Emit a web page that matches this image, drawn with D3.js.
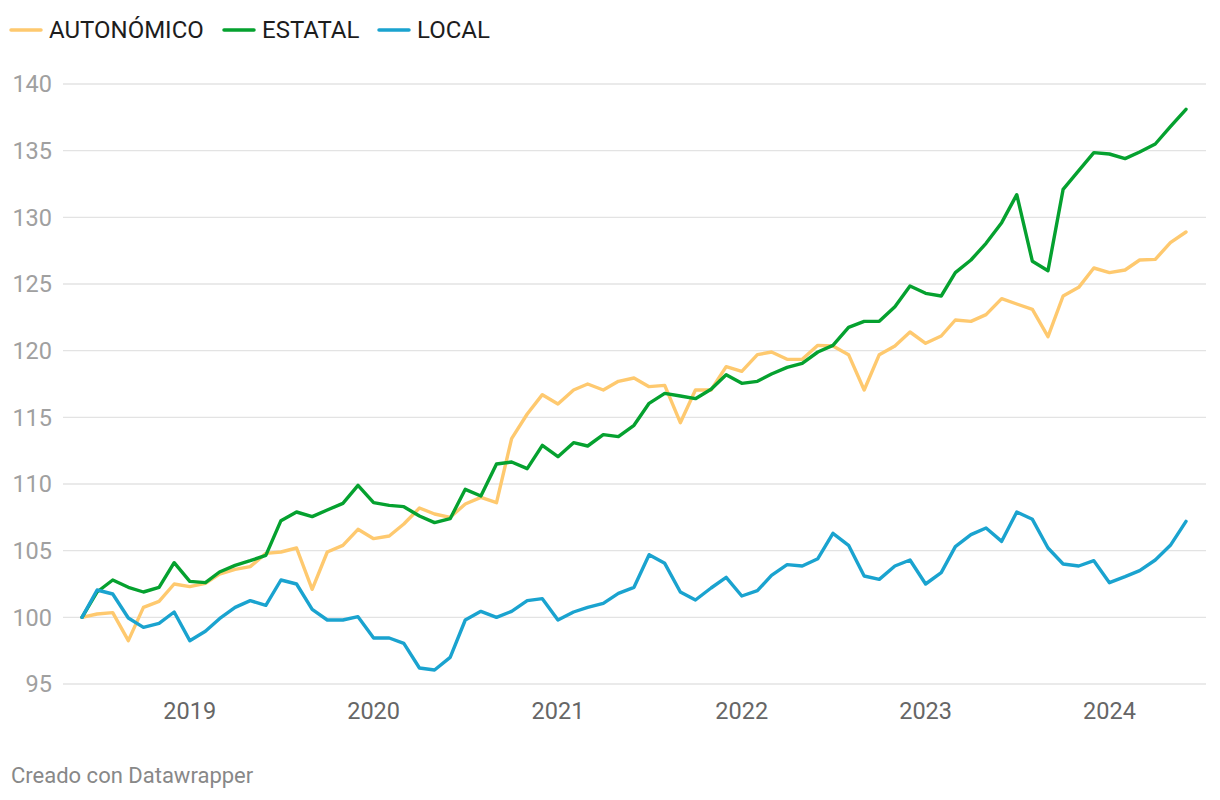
<!DOCTYPE html>
<html>
<head>
<meta charset="utf-8">
<script src="https://cdn.jsdelivr.net/npm/d3@7"></script>
<style>
  html, body { margin: 0; padding: 0; background: #fff; }
  svg { display: block; font-family: Roboto, "Noto Sans", sans-serif; }
</style>
</head>
<body>
<svg id="chart" width="1220" height="800"></svg>
<script>
const months = [
  "2018-06","2018-07","2018-08","2018-09","2018-10","2018-11","2018-12",
  "2019-01","2019-02","2019-03","2019-04","2019-05","2019-06","2019-07","2019-08","2019-09","2019-10","2019-11","2019-12",
  "2020-01","2020-02","2020-03","2020-04","2020-05","2020-06","2020-07","2020-08","2020-09","2020-10","2020-11","2020-12",
  "2021-01","2021-02","2021-03","2021-04","2021-05","2021-06","2021-07","2021-08","2021-09","2021-10","2021-11","2021-12",
  "2022-01","2022-02","2022-03","2022-04","2022-05","2022-06","2022-07","2022-08","2022-09","2022-10","2022-11","2022-12",
  "2023-01","2023-02","2023-03","2023-04","2023-05","2023-06","2023-07","2023-08","2023-09","2023-10","2023-11","2023-12",
  "2024-01","2024-02","2024-03","2024-04","2024-05","2024-06"
];
const autonomico = [
  100, 100.25, 100.35, 98.25, 100.75, 101.2, 102.5, 102.3, 102.55, 103.25, 103.6, 103.8, 104.8,
  104.9, 105.2, 102.1, 104.9, 105.4, 106.6, 105.9, 106.1, 107.0, 108.2, 107.75, 107.5,
  108.5, 109.0, 108.6, 113.4, 115.25, 116.7, 116.0, 117.05, 117.5, 117.05, 117.7, 117.95,
  117.3, 117.4, 114.6, 117.05, 117.05, 118.8, 118.45, 119.7, 119.9, 119.35, 119.35, 120.4,
  120.35, 119.7, 117.05, 119.7, 120.35, 121.4, 120.55, 121.1, 122.3, 122.2, 122.7, 123.9,
  123.5, 123.1, 121.05, 124.1, 124.75, 126.2, 125.85, 126.05, 126.8, 126.85, 128.1, 128.9
];
const estatal = [
  100, 101.9, 102.8, 102.25, 101.9, 102.25, 104.1, 102.7, 102.6, 103.4, 103.9, 104.25, 104.65,
  107.25, 107.9, 107.55, 108.05, 108.55, 109.9, 108.6, 108.4, 108.3, 107.6, 107.1, 107.4,
  109.6, 109.1, 111.5, 111.65, 111.15, 112.9, 112.05, 113.1, 112.85, 113.7, 113.55, 114.4,
  116.05, 116.8, 116.6, 116.4, 117.1, 118.2, 117.55, 117.7, 118.25, 118.75, 119.05, 119.9,
  120.4, 121.75, 122.2, 122.2, 123.3, 124.85, 124.3, 124.1, 125.85, 126.8, 128.05, 129.6,
  131.7, 126.7, 126.0, 132.1, 133.5, 134.85, 134.75, 134.4, 134.9, 135.5, 136.8, 138.1
];
const local = [
  100, 102.05, 101.75, 99.95, 99.25, 99.55, 100.4, 98.25, 98.95, 99.9, 100.75, 101.25, 100.9,
  102.8, 102.5, 100.6, 99.8, 99.8, 100.05, 98.45, 98.45, 98.05, 96.2, 96.05, 97.0,
  99.8, 100.45, 100.0, 100.45, 101.25, 101.4, 99.8, 100.4, 100.75, 101.05, 101.8, 102.25,
  104.7, 104.05, 101.9, 101.3, 102.2, 103.0, 101.6, 102.0, 103.15, 103.95, 103.85, 104.4,
  106.3, 105.4, 103.1, 102.85, 103.85, 104.3, 102.5, 103.35, 105.3, 106.2, 106.7, 105.7,
  107.9, 107.35, 105.2, 104.0, 103.85, 104.25, 102.6, 103.05, 103.5, 104.3, 105.4, 107.2
];
const seriesNames = ["AUTONÓMICO", "ESTATAL", "LOCAL"];
const seriesColors = ["#fec96f", "#05a12f", "#1aa3cf"];
const yTicks = [95, 100, 105, 110, 115, 120, 125, 130, 135, 140];
const xTickLabels = ["2019", "2020", "2021", "2022", "2023", "2024"];

const parse = d3.timeParse("%Y-%m");
const dates = months.map(parse);
const allSeries = [autonomico, estatal, local];

const svg = d3.select("#chart");

const x = d3.scaleTime()
  .domain(d3.extent(dates))
  .range([82, 1186]);
const y = d3.scaleLinear()
  .domain([95, 140])
  .range([684, 84]);

// gridlines
svg.append("g")
  .selectAll("line")
  .data(yTicks)
  .join("line")
  .attr("x1", 63)
  .attr("x2", 1206)
  .attr("y1", d => y(d))
  .attr("y2", d => y(d))
  .attr("stroke", "#e3e3e3")
  .attr("stroke-width", 1.3);

// y labels
svg.append("g")
  .selectAll("text")
  .data(yTicks)
  .join("text")
  .attr("x", 52)
  .attr("y", d => y(d))
  .attr("dy", "0.35em")
  .attr("text-anchor", "end")
  .attr("fill", "#a0a0a0")
  .attr("font-size", 23.5)
  .text(d => d);

// x labels
svg.append("g")
  .selectAll("text")
  .data(xTickLabels)
  .join("text")
  .attr("x", d => x(d3.timeParse("%Y")(d)))
  .attr("y", 719)
  .attr("text-anchor", "middle")
  .attr("fill", "#666")
  .attr("font-size", 23.5)
  .text(d => d);

// lines
const line = d3.line()
  .x((d, i) => x(dates[i]))
  .y(d => y(d));

svg.append("g")
  .selectAll("path")
  .data(allSeries)
  .join("path")
  .attr("d", d => line(d))
  .attr("fill", "none")
  .attr("stroke", (d, i) => seriesColors[i])
  .attr("stroke-width", 3.4)
  .attr("stroke-linejoin", "round")
  .attr("stroke-linecap", "round");

// legend
const legendX = [11, 224, 379];
const legend = svg.append("g")
  .selectAll("g")
  .data(seriesNames)
  .join("g")
  .attr("transform", (d, i) => `translate(${legendX[i]},0)`);
legend.append("line")
  .attr("x1", 0).attr("x2", 30)
  .attr("y1", 30).attr("y2", 30)
  .attr("stroke", (d, i) => seriesColors[i])
  .attr("stroke-width", 3.5)
  .attr("stroke-linecap", "round");
legend.append("text")
  .attr("x", 38)
  .attr("y", 38)
  .attr("fill", "#1d1d1d")
  .attr("font-size", 24)
  .text(d => d);

// footer
svg.append("text")
  .attr("x", 11)
  .attr("y", 783)
  .attr("fill", "#888")
  .attr("font-size", 22)
  .text("Creado con Datawrapper");
</script>
</body>
</html>
